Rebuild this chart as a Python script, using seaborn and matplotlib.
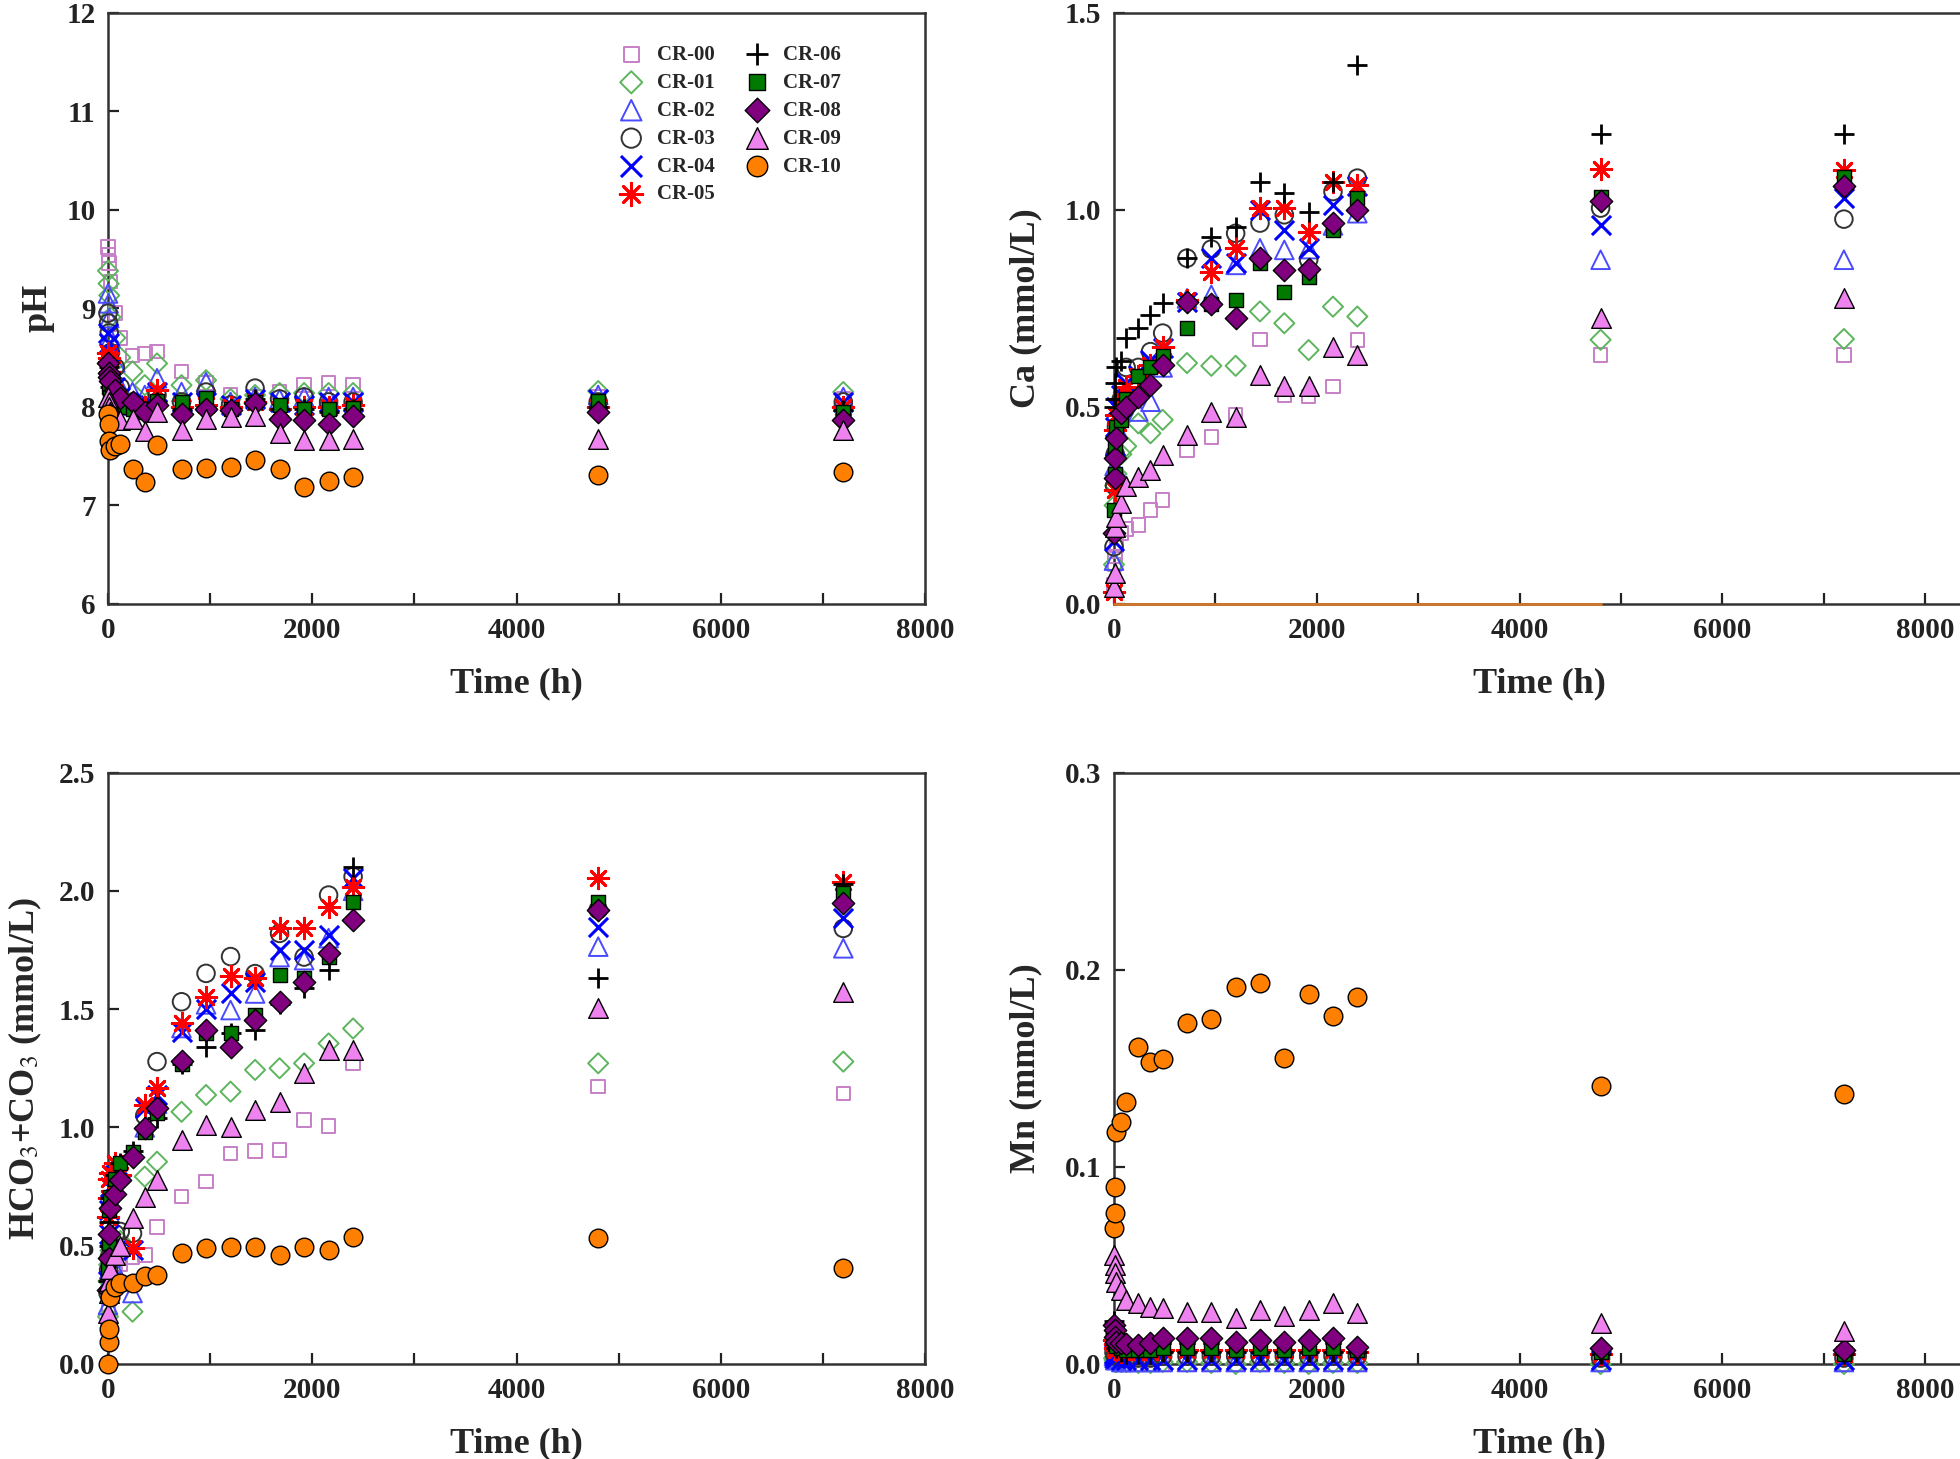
import numpy as np
import pandas as pd
import matplotlib.pyplot as plt
import seaborn as sns

sns.set_style("ticks")
plt.rcParams["font.family"] = ["Liberation Serif", "DejaVu Serif"]
plt.rcParams["mathtext.fontset"] = "stix"

# sampling times (h)
time_h = [0, 6, 12, 24, 72, 120, 240, 360, 480, 720, 960, 1200, 1440, 1680,
          1920, 2160, 2400, 4800, 7200]

series = ["CR-00", "CR-01", "CR-02", "CR-03", "CR-04", "CR-05",
          "CR-06", "CR-07", "CR-08", "CR-09", "CR-10"]

# pH
ph = [
    [9.62, 9.54, 9.46, 9.27, 8.95, 8.70, 8.52, 8.54, 8.56, 8.36, 8.24, 8.12, 8.10, 8.15, 8.22, 8.24, 8.22, 8.10, 8.08],
    [9.38, 9.25, 9.13, 8.91, 8.70, 8.50, 8.36, 8.22, 8.44, 8.22, 8.27, 8.08, 8.12, 8.14, 8.14, 8.14, 8.14, 8.16, 8.15],
    [9.15, 9.05, 8.90, 8.70, 8.45, 8.20, 8.15, 8.12, 8.29, 8.15, 8.25, 8.05, 8.10, 8.08, 8.10, 8.10, 8.10, 8.12, 8.10],
    [8.95, 8.85, 8.75, 8.55, 8.40, 8.20, 8.05, 8.00, 8.12, 8.05, 8.15, 8.02, 8.19, 8.08, 8.10, 8.05, 8.05, 8.05, 8.05],
    [8.75, 8.65, 8.55, 8.40, 8.20, 8.10, 8.02, 8.05, 8.15, 8.05, 8.05, 8.02, 8.08, 8.05, 8.02, 8.05, 8.05, 8.08, 8.05],
    [8.55, 8.50, 8.45, 8.35, 8.15, 8.05, 8.02, 8.00, 8.17, 8.00, 8.02, 8.00, 8.05, 7.98, 8.00, 8.00, 8.02, 8.00, 8.00],
    [8.45, 8.40, 8.30, 8.20, 8.10, 8.00, 7.95, 7.95, 8.05, 7.98, 8.00, 7.98, 8.08, 7.98, 7.98, 7.95, 7.98, 8.00, 7.97],
    [8.40, 8.30, 8.20, 8.10, 8.05, 8.00, 7.98, 7.95, 8.06, 8.05, 8.09, 7.98, 8.05, 8.02, 7.98, 7.98, 7.99, 8.06, 7.95],
    [8.44, 8.34, 8.30, 8.26, 8.17, 8.09, 8.05, 7.95, 8.02, 7.93, 7.98, 7.97, 8.04, 7.88, 7.87, 7.83, 7.91, 7.95, 7.87],
    [8.10, 8.05, 8.00, 7.95, 7.90, 7.87, 7.88, 7.75, 7.95, 7.77, 7.88, 7.90, 7.91, 7.73, 7.66, 7.66, 7.67, 7.67, 7.76],
    [7.93, 7.83, 7.65, 7.56, 7.60, 7.62, 7.37, 7.24, 7.61, 7.37, 7.38, 7.39, 7.46, 7.37, 7.19, 7.25, 7.29, 7.31, 7.34],
]

# Ca (mmol/L)
ca = [
    [0.05, 0.10, 0.12, 0.15, 0.18, 0.19, 0.20, 0.238, 0.264, 0.391, 0.424, 0.48, 0.671, 0.530, 0.526, 0.551, 0.670, 0.632, 0.632],
    [0.10, 0.25, 0.30, 0.33, 0.38, 0.40, 0.458, 0.433, 0.467, 0.611, 0.604, 0.604, 0.742, 0.712, 0.644, 0.754, 0.729, 0.670, 0.672],
    [0.11, 0.35, 0.40, 0.45, 0.50, 0.52, 0.488, 0.513, 0.60, 0.775, 0.784, 0.86, 0.902, 0.898, 0.90, 0.96, 0.991, 0.873, 0.873],
    [0.145, 0.30, 0.38, 0.45, 0.52, 0.60, 0.60, 0.64, 0.687, 0.877, 0.90, 0.940, 0.966, 0.987, 0.873, 1.046, 1.080, 1.004, 0.976],
    [0.16, 0.40, 0.45, 0.50, 0.53, 0.56, 0.58, 0.62, 0.65, 0.767, 0.877, 0.864, 1.00, 0.949, 0.902, 1.012, 1.059, 0.961, 1.030],
    [0.03, 0.289, 0.441, 0.48, 0.52, 0.55, 0.577, 0.606, 0.653, 0.77, 0.843, 0.902, 1.004, 1.004, 0.944, 1.071, 1.063, 1.103, 1.100],
    [0.50, 0.52, 0.56, 0.60, 0.615, 0.674, 0.699, 0.733, 0.763, 0.877, 0.930, 0.957, 1.069, 1.042, 0.995, 1.070, 1.367, 1.193, 1.193],
    [0.238, 0.33, 0.399, 0.45, 0.467, 0.52, 0.577, 0.60, 0.63, 0.699, 0.76, 0.771, 0.864, 0.792, 0.830, 0.949, 1.029, 1.033, 1.084],
    [0.18, 0.319, 0.369, 0.42, 0.484, 0.50, 0.526, 0.556, 0.606, 0.767, 0.761, 0.725, 0.877, 0.847, 0.849, 0.967, 0.998, 1.021, 1.059],
    [0.044, 0.078, 0.196, 0.22, 0.255, 0.30, 0.323, 0.34, 0.378, 0.429, 0.488, 0.475, 0.581, 0.553, 0.553, 0.653, 0.632, 0.725, 0.775],
    [0, 0, 0, 0, 0, 0, 0, 0, 0, 0, 0, 0, 0, 0, 0, 0, 0, 0, np.nan],
]

# HCO3 + CO3 (mmol/L)
hco3 = [
    [0.15, 0.22, 0.28, 0.33, 0.38, 0.42, 0.45, 0.461, 0.58, 0.707, 0.771, 0.89, 0.90, 0.904, 1.031, 1.006, 1.271, 1.172, 1.144],
    [0.20, 0.35, 0.42, 0.48, 0.50, 0.52, 0.221, 0.792, 0.855, 1.066, 1.137, 1.151, 1.243, 1.25, 1.271, 1.355, 1.418, 1.271, 1.278],
    [0.25, 0.35, 0.40, 0.45, 0.40, 0.35, 0.30, 1.00, 1.10, 1.42, 1.52, 1.496, 1.566, 1.72, 1.707, 1.80, 2.00, 1.764, 1.757],
    [0.30, 0.397, 0.45, 0.50, 0.55, 0.56, 0.552, 1.05, 1.278, 1.531, 1.651, 1.722, 1.65, 1.82, 1.72, 1.982, 2.06, 1.92, 1.841],
    [0.35, 0.55, 0.65, 0.75, 0.80, 0.83, 0.48, 1.08, 1.137, 1.404, 1.50, 1.566, 1.616, 1.75, 1.75, 1.813, 2.053, 1.848, 1.884],
    [0.62, 0.70, 0.78, 0.807, 0.85, 0.80, 0.489, 1.094, 1.165, 1.440, 1.552, 1.640, 1.630, 1.841, 1.841, 1.933, 2.017, 2.053, 2.039],
    [0.35, 0.50, 0.60, 0.70, 0.80, 0.85, 0.90, 1.00, 1.04, 1.27, 1.341, 1.40, 1.411, 1.52, 1.588, 1.665, 2.102, 1.630, 2.03],
    [0.40, 0.51, 0.65, 0.707, 0.78, 0.85, 0.897, 0.98, 1.06, 1.27, 1.40, 1.397, 1.475, 1.644, 1.63, 1.72, 1.954, 1.954, 1.989],
    [0.313, 0.45, 0.55, 0.658, 0.72, 0.778, 0.876, 0.996, 1.08, 1.28, 1.411, 1.341, 1.454, 1.531, 1.616, 1.736, 1.876, 1.919, 1.947],
    [0.214, 0.30, 0.35, 0.40, 0.46, 0.50, 0.616, 0.707, 0.778, 0.947, 1.01, 1.003, 1.073, 1.109, 1.229, 1.327, 1.327, 1.503, 1.574],
    [0.0, 0.094, 0.15, 0.285, 0.327, 0.341, 0.341, 0.37, 0.376, 0.468, 0.489, 0.493, 0.493, 0.461, 0.496, 0.482, 0.538, 0.531, 0.404],
]

# Mn (mmol/L)
mn = [
    [0.002, 0.001, 0.001, 0.001, 0.0, 0.0, 0.0, 0.0, 0.0, 0.0, 0.0, 0.0, 0.0, 0.0, 0.0, 0.0, 0.0, 0.0, 0.0],
    [0.003, 0.002, 0.001, 0.001, 0.001, 0.001, 0.0005, 0.0005, 0.001, 0.001, 0.0005, 0.0, 0.001, 0.0005, 0.0, 0.0005, 0.0005, 0.0, 0.0],
    [0.004, 0.003, 0.002, 0.002, 0.001, 0.001, 0.001, 0.001, 0.001, 0.001, 0.001, 0.001, 0.001, 0.001, 0.001, 0.001, 0.001, 0.001, 0.001],
    [0.006, 0.005, 0.004, 0.004, 0.003, 0.003, 0.003, 0.003, 0.004, 0.004, 0.004, 0.004, 0.004, 0.004, 0.004, 0.004, 0.004, 0.003, 0.003],
    [0.005, 0.004, 0.003, 0.003, 0.002, 0.002, 0.002, 0.002, 0.002, 0.002, 0.002, 0.002, 0.002, 0.002, 0.002, 0.002, 0.002, 0.002, 0.002],
    [0.012, 0.010, 0.008, 0.007, 0.006, 0.006, 0.006, 0.006, 0.007, 0.007, 0.007, 0.007, 0.007, 0.007, 0.007, 0.007, 0.006, 0.005, 0.005],
    [0.022, 0.015, 0.010, 0.008, 0.006, 0.005, 0.005, 0.005, 0.006, 0.006, 0.006, 0.006, 0.006, 0.006, 0.006, 0.006, 0.006, 0.005, 0.005],
    [0.015, 0.012, 0.010, 0.009, 0.008, 0.007, 0.007, 0.007, 0.008, 0.008, 0.008, 0.007, 0.008, 0.007, 0.008, 0.008, 0.007, 0.006, 0.005],
    [0.0198, 0.0173, 0.0139, 0.0114, 0.0105, 0.0100, 0.0097, 0.0105, 0.013, 0.013, 0.013, 0.0114, 0.0122, 0.0114, 0.0122, 0.013, 0.0088, 0.008, 0.007],
    [0.0553, 0.0502, 0.046, 0.0418, 0.0375, 0.0325, 0.0308, 0.0291, 0.0282, 0.0265, 0.0265, 0.0232, 0.0274, 0.0243, 0.0274, 0.0308, 0.0257, 0.0207, 0.0165],
    [0.0688, 0.0764, 0.0897, 0.1178, 0.1229, 0.133, 0.161, 0.1533, 0.1545, 0.1731, 0.1748, 0.1914, 0.1931, 0.1554, 0.1876, 0.1767, 0.1863, 0.1412, 0.137],
]

# marker styles for each series
styles = {
    "CR-00": dict(marker="s", s=95, facecolor="none", edgecolor="#C77FC7", linewidth=1.4),
    "CR-01": dict(marker="D", s=105, facecolor="none", edgecolor="#5DB55D", linewidth=1.4),
    "CR-02": dict(marker="^", s=180, facecolor="none", edgecolor="#4A4AFF", linewidth=1.4),
    "CR-03": dict(marker="o", s=160, facecolor="none", edgecolor="#333333", linewidth=1.4),
    "CR-04": dict(marker="x", s=190, color="#0000FF", linewidth=2.2),
    "CR-05": dict(marker=(8, 2, 0), s=220, color="#FF0000", linewidth=2.0),
    "CR-06": dict(marker="+", s=200, color="#000000", linewidth=2.0),
    "CR-07": dict(marker="s", s=115, facecolor="#007A00", edgecolor="#000000", linewidth=1.0),
    "CR-08": dict(marker="D", s=130, facecolor="#800080", edgecolor="#000000", linewidth=1.0),
    "CR-09": dict(marker="^", s=200, facecolor="#EE82EE", edgecolor="#000000", linewidth=1.0),
    "CR-10": dict(marker="o", s=180, facecolor="#FF8000", edgecolor="#000000", linewidth=1.0),
}


def long_table(values):
    rows = []
    for name, vals in zip(series, values):
        for t, v in zip(time_h, vals):
            rows.append({"time": t, "series": name, "value": v})
    return pd.DataFrame(rows).dropna()


fig = plt.figure(figsize=(19.6, 14.59), dpi=100)
W, H = 1960, 1459
ax_ph = fig.add_axes([108 / W, 1 - 604 / H, 817 / W, 591.5 / H])
ax_ca = fig.add_axes([1114 / W, 1 - 604 / H, 811 * 8400 / 8000 / W, 591.5 / H])
ax_hc = fig.add_axes([108 / W, 1 - 1364 / H, 817 / W, 591.5 / H])
ax_mn = fig.add_axes([1114 / W, 1 - 1364 / H, 811 * 8400 / 8000 / W, 591.5 / H])

panels = [
    (ax_ph, ph, "pH", (6, 12), np.arange(6, 13, 1), "{:.0f}", 8000, 8.5),
    (ax_ca, ca, "Ca (mmol/L)", (0, 1.5), np.arange(0, 1.51, 0.5), "{:.1f}", 8400, 16.5),
    (ax_hc, hco3, r"HCO$_3$+CO$_3$ (mmol/L)", (0, 2.5), np.arange(0, 2.51, 0.5), "{:.1f}", 8000, 11),
    (ax_mn, mn, "Mn (mmol/L)", (0, 0.3), np.arange(0, 0.31, 0.1), "{:.1f}", 8400, 16.5),
]

for ax, values, ylabel, ylim, yticks, fmt, xmax, ypad in panels:
    df = long_table(values)
    for name in series:
        sub = df[df["series"] == name]
        if ax is ax_ca and name == "CR-10":
            # Ca of CR-10 stays at zero: drawn as a line along the axis
            sns.lineplot(data=sub, x="time", y="value", ax=ax, color="#D2782A",
                         linewidth=2.0, clip_on=False, zorder=5)
            continue
        sns.scatterplot(data=sub, x="time", y="value", ax=ax, label=name,
                        clip_on=False, zorder=4, **styles[name])
    ax.set_xlim(0, xmax)
    ax.set_ylim(*ylim)
    ax.set_xticks([0, 2000, 4000, 6000, 8000])
    ax.set_xticks(np.arange(1000, 8001, 2000), minor=True)
    ax.set_yticks(yticks)
    ax.set_yticklabels([fmt.format(v) for v in yticks])
    ax.tick_params(which="both", direction="in", length=8, width=1.6,
                   labelsize=21, colors="#222222")
    ax.tick_params(axis="x", pad=9.5)
    ax.tick_params(axis="y", pad=9)
    for lab in ax.get_xticklabels() + ax.get_yticklabels():
        lab.set_fontweight("bold")
    ax.set_xlabel("Time (h)", fontsize=26, fontweight="bold", labelpad=17)
    ax.set_ylabel(ylabel, fontsize=26, fontweight="bold", labelpad=ypad)
    for sp in ax.spines.values():
        sp.set_linewidth(1.8)
        sp.set_color("#333333")
    if ax is not ax_ph:
        leg = ax.get_legend()
        if leg is not None:
            leg.remove()

ax_ph.legend(ncol=2, frameon=False, loc="upper left", bbox_to_anchor=(0.592, 0.977),
             handletextpad=0.25, columnspacing=1.0, labelspacing=0.38,
             markerscale=1.1, prop={"size": 15, "weight": "bold"})

fig.savefig("out.png", dpi=100)
